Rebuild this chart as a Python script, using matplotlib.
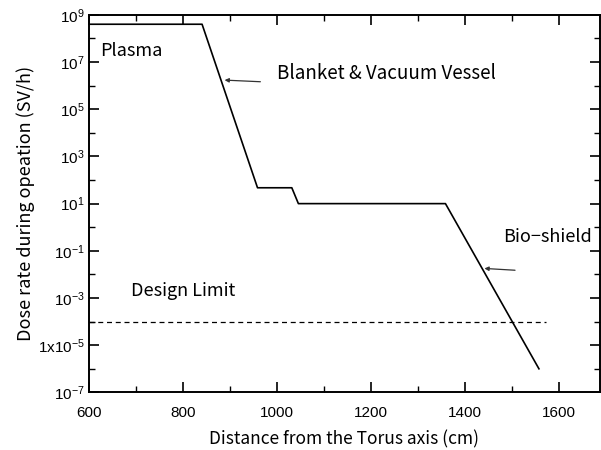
import matplotlib
matplotlib.use("Agg")
import matplotlib.pyplot as plt
import numpy as np

# dose rate profile along the radius
distance = [600, 840, 958, 1031, 1045, 1358, 1557]
dose = [4e8, 4e8, 47, 47, 10, 10, 1e-6]

# design limit line
limit_x = [600, 1573]
limit_y = [1e-4, 1e-4]

major_exp = [9, 7, 5, 3, 1, -1, -3, -5, -7]
major_labels = [r'$10^{9}$', r'$10^{7}$', r'$10^{5}$', r'$10^{3}$', r'$10^{1}$',
                r'$10^{-1}$', r'$10^{-3}$', r'$1\mathrm{x}10^{-5}$', r'$10^{-7}$']
minor_exp = [8, 6, 4, 2, 0, -2, -4, -6]

plt.rcParams['font.family'] = ['Liberation Sans', 'DejaVu Sans']
plt.rcParams['mathtext.fontset'] = 'custom'
plt.rcParams['mathtext.rm'] = 'Liberation Sans'
plt.rcParams['mathtext.it'] = 'Liberation Sans'

fig = plt.figure(figsize=(6.01, 4.5), dpi=100)
ax = fig.add_axes([0.1486, 0.128, 0.849, 0.839])

ax.plot(distance, dose, color='black', lw=1.2)
ax.plot(limit_x, limit_y, color='black', lw=0.9, ls=(0, (4, 3)))

ax.set_yscale('log')
ax.set_xlim(600, 1686)
ax.set_ylim(1e-7, 1e9)

ax.set_xticks(np.arange(600, 1700, 200))
ax.set_xticks(np.arange(700, 1700, 200), minor=True)
ax.set_yticks([10.0 ** e for e in major_exp])
ax.set_yticklabels(major_labels)
ax.set_yticks([10.0 ** e for e in minor_exp], minor=True)
ax.yaxis.set_minor_formatter(matplotlib.ticker.NullFormatter())

ax.tick_params(which='both', direction='in', top=True, right=True, labelsize=11)
ax.tick_params(which='major', length=7, width=1.2)
ax.tick_params(which='minor', length=4, width=1.0)
ax.tick_params(axis='x', which='major', pad=10)
for s in ax.spines.values():
    s.set_linewidth(1.4)

lab_font = ['Noto Sans CJK JP', 'DejaVu Sans']
ax.set_xlabel('Distance from the Torus axis (cm)', fontsize=12.5, family=lab_font, labelpad=7)
ax.set_ylabel('Dose rate during opeation (SV/h)', fontsize=13, family=lab_font, labelpad=2)

ax.text(623, 2.8e7, 'Plasma', fontsize=13, va='center', family=lab_font)
ax.text(688, 2e-3, 'Design Limit', fontsize=13, va='center', family=lab_font)
ax.text(999, 3.2e6, 'Blanket & Vacuum Vessel', fontsize=13.5, va='center', family=lab_font)
ax.text(1480, 0.4, 'Bio\u2212shield', fontsize=13, va='center', family=lab_font)

arrow = dict(arrowstyle='-|>', color='#333333', lw=0.9, mutation_scale=6)
ax.annotate('', xy=(882, 10 ** 6.24), xytext=(970, 10 ** 6.16), arrowprops=arrow)
ax.annotate('', xy=(1435, 10 ** -1.74), xytext=(1512, 10 ** -1.83), arrowprops=arrow)

fig.savefig('out.png', dpi=100)
